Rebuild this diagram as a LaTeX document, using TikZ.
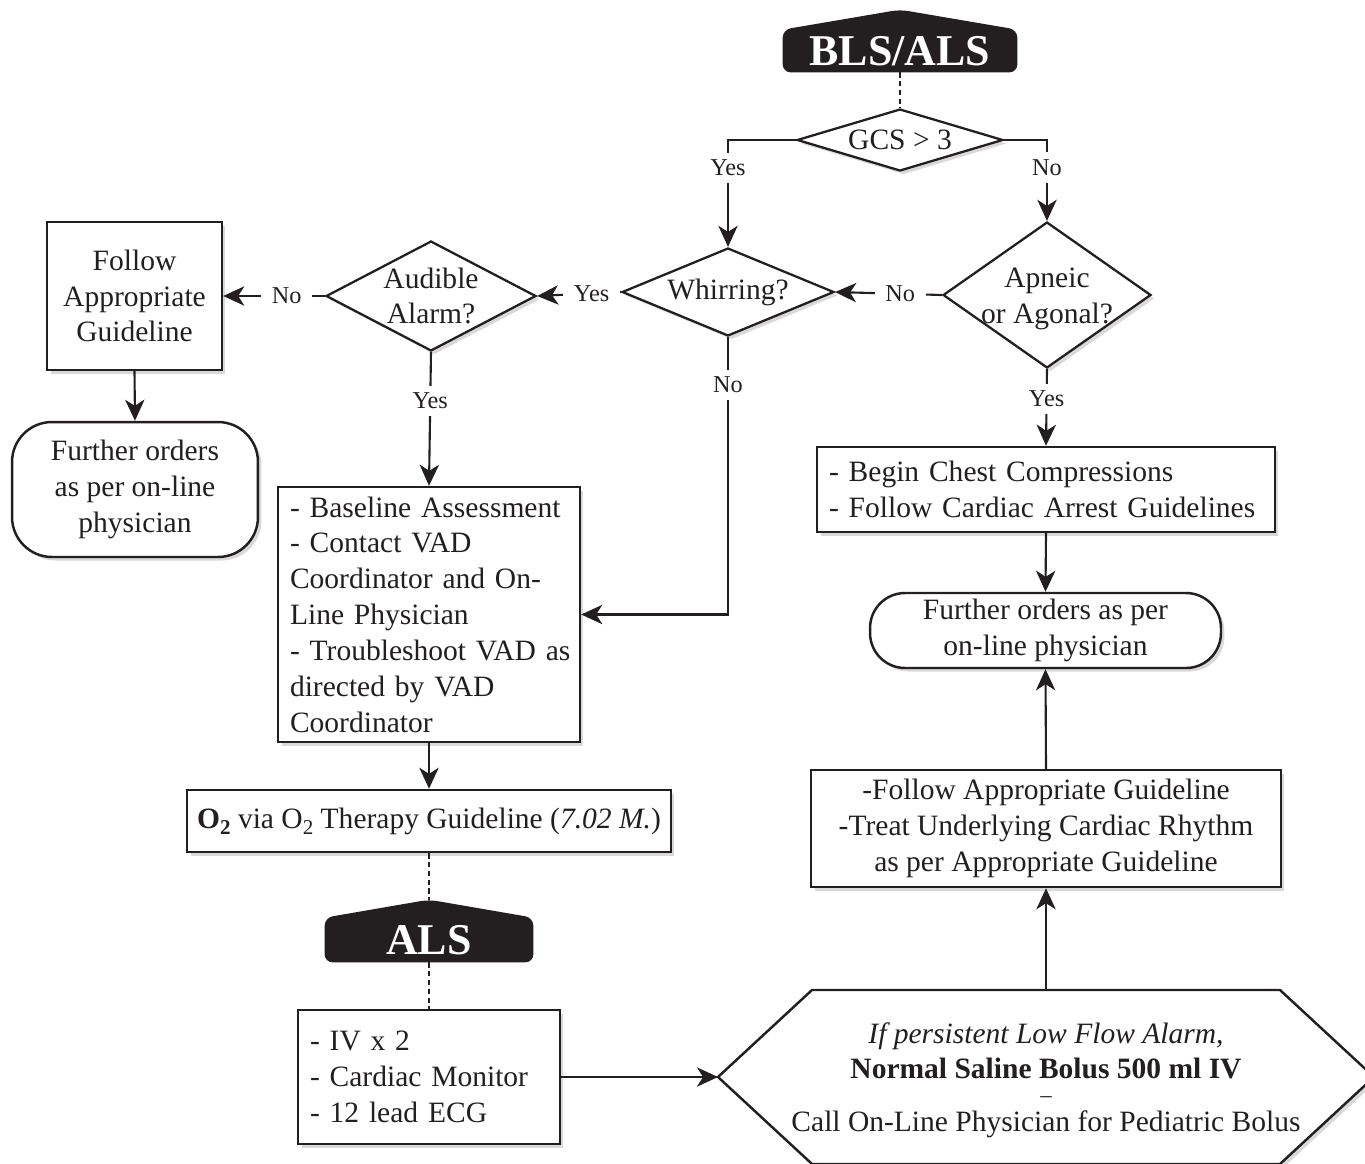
\documentclass[tikz,border=0pt]{standalone}
\usepackage{fontspec}
\setmainfont{Liberation Serif}
\usetikzlibrary{shapes.geometric,arrows.meta,shadows,backgrounds}
\definecolor{ink}{HTML}{231F20}
\newcommand\flowfont{\fontsize{16.8}{20.4}\selectfont}
\newcommand\subtwo{\raisebox{-0.45ex}{\fontsize{12}{12}\selectfont 2}}

\begin{document}
\begin{tikzpicture}[x=0.02cm, y=-0.02cm,
	every node/.style={text=ink, font=\flowfont},
	box/.style={draw=ink, line width=1.4pt, fill=white, inner sep=0pt,
		drop shadow={shadow xshift=2pt, shadow yshift=-2pt, opacity=0.3}},
	leftbox/.style={box, align=left, inner xsep=0.24cm},
	term/.style={box, align=center, rounded corners=0.8cm},
	decision/.style={box, diamond, line width=1.3pt},
	banner/.style={text=white, inner sep=0pt, font=\fontsize{25}{25}\selectfont\bfseries},
	lbl/.style={fill=white, inner xsep=6pt, inner ysep=4pt, font=\fontsize{13.8}{13.8}\selectfont},
	arr/.style={line width=1.2pt, draw=ink, -{Stealth[length=12pt, width=11pt, inset=3.5pt]}},
	dashlink/.style={line width=1.2pt, draw=ink, dash pattern=on 3pt off 2pt}]
			%%%%% START %%%%%
			
			\useasboundingbox (0,0) rectangle (1365,1163);
			
			\node[banner, minimum width=4.68cm, minimum height=0.84cm] (blsals) at (900,51) {BLS/ALS};
			\coordinate (blspeak) at ([yshift=0.4cm]blsals.north);
			\begin{pgfonlayer}{background}
				\fill[ink, rounded corners=0.16cm] (blsals.south west) -- (blsals.north west) -- (blspeak) -- (blsals.north east) -- (blsals.south east) -- cycle;
			\end{pgfonlayer}
			
			\node[decision, minimum width=4.12cm, minimum height=1.24cm] (gcs) at (900,140) {};
			\node (gcstext) at (gcs) {GCS > 3};
			
			\node[decision, minimum width=4.24cm, minimum height=1.76cm] (whirr) at (728,292) {};
			\node (whirrtext) at (whirr) {Whirring?};
			
			\node[decision, minimum width=4.16cm, minimum height=2.92cm] (apneic) at (1047,295) {};
			\node[align=center, yshift=-0.07cm] (apneictext) at (apneic) {Apneic\\or Agonal?};
			
			\node[decision, minimum width=4.2cm, minimum height=2.2cm] (audible) at (431,296) {};
			\node[align=center] (audibletext) at (audible) {Audible\\Alarm?};
			
			\node[box, align=center, minimum width=3.5cm, minimum height=2.96cm] (follow) at (134.5,296) {Follow\\Appropriate\\Guideline};
			\node[term, minimum width=4.92cm, minimum height=2.7cm] (further) at (135,489.5) {Further orders\\as per on-line\\physician};
			
			\node[leftbox, text width=5.56cm, minimum height=5.1cm] (assess) at (429,614.5) {- Baseline Assessment\\- Contact VAD\\Coordinator and On-\\Line Physician\\\mbox{- Troubleshoot VAD as}\\directed by VAD\\Coordinator};
			\node[box, minimum width=9.68cm, minimum height=1.24cm] (oxygen) at (429,821) {\textbf{O\subtwo} via O\subtwo{} Therapy Guideline (\textit{7.02 M.})};
			
			\node[banner, minimum width=4.16cm, minimum height=0.88cm] (als) at (429,940) {ALS};
			\coordinate (alspeak) at ([yshift=0.36cm]als.north);
			\begin{pgfonlayer}{background}
				\fill[ink, rounded corners=0.16cm] (als.south west) -- (als.north west) -- (alspeak) -- (als.north east) -- (als.south east) -- cycle;
			\end{pgfonlayer}
			
			\node[leftbox, text width=4.76cm, minimum height=2.68cm] (iv) at (429,1077) {- IV x 2\\- Cardiac Monitor\\- 12 lead ECG};
			
			\node[leftbox, text width=8.68cm, minimum height=1.7cm] (compress) at (1046,489.5) {- Begin Chest Compressions\\- Follow Cardiac Arrest Guidelines};
			\node[term, rounded corners=0.7cm, minimum width=7.02cm, minimum height=1.5cm] (furtherr) at (1045.5,630.5) {Further orders as per\\on-line physician};
			\node[box, align=center, minimum width=9.4cm, minimum height=2.34cm] (rhythm) at (1046,828.5) {-Follow Appropriate Guideline\\-Treat Underlying Cardiac Rhythm\\as per Appropriate Guideline};
			
			\coordinate (hexL) at (718,1077);
			\coordinate (hexT) at (1046,990);
			\draw[box] (hexL) -- (812,990) -- (hexT) -- (1280,990) -- (1374,1077) -- (1280,1164) -- (812,1164) -- cycle;
			\node[align=center] (bolus) at (1046,1080) {\textit{If persistent Low Flow Alarm,}\\\textbf{Normal Saline Bolus 500 ml IV}\\[-7pt]{\fontsize{13}{13}\selectfont --}\\[-4pt]Call On-Line Physician for Pediatric Bolus};
			
			\draw[dashlink] (blsals.south) -- (gcs.north);
			\draw[arr] (gcs.west) -| node[lbl, pos=0.63] (gcsyes) {Yes} (whirr.north);
			\draw[arr] (gcs.east) -| node[lbl, pos=0.67] (gcsno) {No} (apneic.north);
			\draw[arr] (apneic.west) -- node[lbl, pos=0.39] (apneicno) {No} (whirr.east);
			\draw[arr] (whirr.west) -- node[lbl, pos=0.35] (whirryes) {Yes} (audible.east);
			\draw[arr] (audible.west) -- node[lbl, pos=0.375] (audibleno) {No} (follow.east);
			\draw[arr] (audible.south) -- node[lbl, pos=0.365] (audibleyes) {Yes} (assess.north);
			\draw[arr] (whirr.south) |- node[lbl, pos=0.086] (whirrno) {No} (assess.east);
			\draw[arr] (apneic.south) -- node[lbl, pos=0.39] (apneicyes) {Yes} (compress.north);
			\draw[arr] (follow.south) -- (further.north);
			\draw[arr] (compress.south) -- (furtherr.north);
			
			\draw[arr] (assess.south) -- (oxygen.north);
			\draw[dashlink] (oxygen.south) -- (alspeak);
			\draw[dashlink] (als.south) -- (iv.north);
			\draw[arr] (iv.east) -- (hexL);
			\draw[arr] (hexT) -- (rhythm.south);
			\draw[arr] (rhythm.north) -- (furtherr.south);
			
			%%%%% END %%%%%
		\end{tikzpicture}
\end{document}
